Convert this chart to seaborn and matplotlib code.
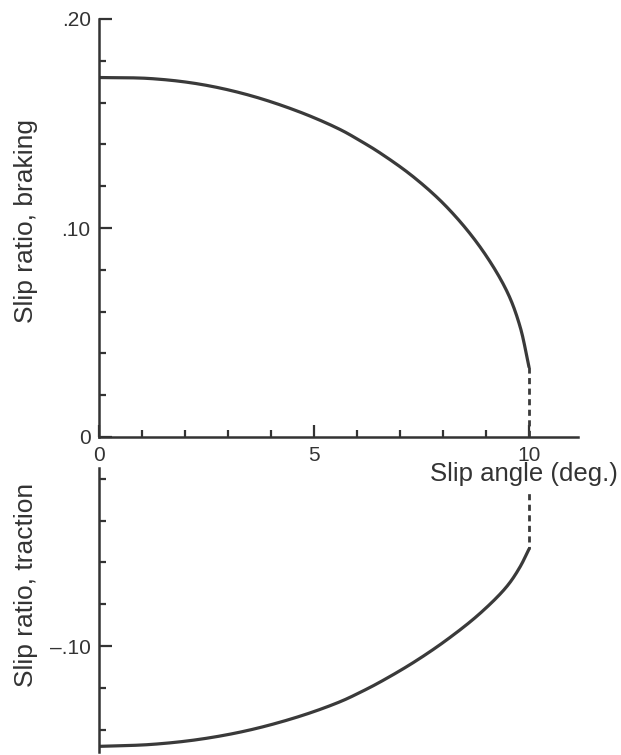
import matplotlib
matplotlib.use("Agg")
import numpy as np
import matplotlib.pyplot as plt
import seaborn as sns
import pandas as pd
from matplotlib.ticker import FixedLocator
from matplotlib.transforms import Bbox

# Slip angle (deg.) at which each branch was read
slip_angle = [0, 1.2, 2.35, 3.5, 4.67, 5.6, 6.07, 6.53, 7.31, 8.09, 8.86, 9.48, 9.79, 10.0]
# Slip ratio limit under braking (positive) and traction (negative)
slip_braking = [0.172, 0.1715, 0.1688, 0.1635, 0.1555, 0.1472, 0.1418, 0.136, 0.1245,
                0.110, 0.091, 0.070, 0.053, 0.0335]
slip_traction = [-0.148, -0.1471, -0.1446, -0.1402, -0.1336, -0.1267, -0.1222, -0.1173,
                 -0.1079, -0.0970, -0.0844, -0.0716, -0.0622, -0.0536]
# Dashed link between the two branches at the limiting slip angle
link_angle = [10.0, 10.0]
link_ratio = [0.0335, -0.0536]

x_major = [0, 5, 10]
x_labels = ["0", "5", "10"]
x_minor = [1, 2, 3, 4, 6, 7, 8, 9]
yb_major = [0, 0.10, 0.20]
yb_labels = ["0", ".10", ".20"]
yb_minor = [0.02, 0.04, 0.06, 0.08, 0.12, 0.14, 0.16, 0.18]
yt_major = [-0.10]
yt_labels = ["\u2013.10"]
yt_minor = [-0.02, -0.04, -0.06, -0.08, -0.12, -0.14]

sns.set_style("ticks")
plt.rcParams["font.family"] = ["Liberation Sans", "DejaVu Sans"]

INK = "#333333"
CURVE = "#3a3a3a"


def smooth_curve(xs, ys, y_scale, n=24):
    """Centripetal Catmull-Rom path through the given points (drawn line only)."""
    P = np.column_stack([np.asarray(xs, float), np.asarray(ys, float) * y_scale])
    P = np.vstack([2 * P[0] - P[1], P, 2 * P[-1] - P[-2]])
    out = []
    for i in range(1, len(P) - 2):
        p0, p1, p2, p3 = P[i - 1], P[i], P[i + 1], P[i + 2]
        t0 = 0.0
        t1 = t0 + np.linalg.norm(p1 - p0) ** 0.5
        t2 = t1 + np.linalg.norm(p2 - p1) ** 0.5
        t3 = t2 + np.linalg.norm(p3 - p2) ** 0.5
        t = np.linspace(t1, t2, n, endpoint=False)[:, None]
        a1 = (t1 - t) / (t1 - t0) * p0 + (t - t0) / (t1 - t0) * p1
        a2 = (t2 - t) / (t2 - t1) * p1 + (t - t1) / (t2 - t1) * p2
        a3 = (t3 - t) / (t3 - t2) * p2 + (t - t2) / (t3 - t2) * p3
        b1 = (t2 - t) / (t2 - t0) * a1 + (t - t0) / (t2 - t0) * a2
        b2 = (t3 - t) / (t3 - t1) * a2 + (t - t1) / (t3 - t1) * a3
        out.append((t2 - t) / (t2 - t1) * b1 + (t - t1) / (t2 - t1) * b2)
    out.append(P[-2][None, :])
    C = np.vstack(out)
    return pd.DataFrame({"angle": C[:, 0], "ratio": C[:, 1] / y_scale})


W, H = 621, 755
fig = plt.figure(figsize=(W / 100, H / 100), dpi=100)
ax_top = fig.add_axes([99 / W, 318 / H, 479 / W, 418 / H])
ax_bot = fig.add_axes([99 / W, 3 / H, 479 / W, 284 / H], sharex=ax_top)
ax_top.set_zorder(2)
ax_bot.set_zorder(1)
ax_top.patch.set_visible(False)
ax_bot.patch.set_visible(False)

# one x unit is 43 px, one slip-ratio unit is 2090 px
Y_SCALE = 2090 / 43
df_b = smooth_curve(slip_angle, slip_braking, Y_SCALE)
df_t = smooth_curve(slip_angle, slip_traction, Y_SCALE)
df_link = pd.DataFrame({"angle": link_angle, "ratio": link_ratio})

dash = (0, (2.2, 1.6))
for ax, df in ((ax_top, df_b), (ax_bot, df_t)):
    sns.lineplot(data=df, x="angle", y="ratio", ax=ax, color=CURVE, lw=2.3,
                 estimator=None, sort=False)
    sns.lineplot(data=df_link, x="angle", y="ratio", ax=ax, color=CURVE, lw=2.0,
                 estimator=None, sort=False, linestyle=dash)
link_lower = ax_bot.lines[-1]

ax_top.set_xlim(0, 11.14)
ax_top.set_ylim(0, 0.20)
ax_bot.set_ylim(-0.1507, -0.0148)

ax_top.set_xticks(x_major, labels=x_labels)
ax_top.xaxis.set_minor_locator(FixedLocator(x_minor))
ax_top.set_yticks(yb_major, labels=yb_labels)
ax_top.yaxis.set_minor_locator(FixedLocator(yb_minor))
ax_bot.set_yticks(yt_major, labels=yt_labels)
ax_bot.yaxis.set_minor_locator(FixedLocator(yt_minor))

for ax in (ax_top, ax_bot):
    for s in ("top", "right"):
        ax.spines[s].set_visible(False)
    for s in ("left", "bottom"):
        ax.spines[s].set_color(INK)
        ax.spines[s].set_linewidth(1.8)
    ax.tick_params(which="both", direction="in", colors=INK, width=1.6,
                   labelsize=15, left=True, bottom=True)
    ax.tick_params(which="major", length=9)
    ax.tick_params(which="minor", length=5)
    ax.tick_params(axis="x", pad=6.5)
    ax.tick_params(axis="y", pad=6)
    ax.set_xlabel("")
    ax.set_ylabel("")

ax_bot.spines["bottom"].set_visible(False)
ax_bot.tick_params(axis="x", which="both", bottom=False, labelbottom=False)

ax_top.set_xlabel("Slip angle (deg.)", fontsize=18.5, color=INK, va="baseline")
ax_top.xaxis.set_label_coords(0.887, -0.105)

ax_top.set_ylabel("Slip ratio, braking", fontsize=19, color=INK, va="center")
ax_top.yaxis.set_label_coords(-0.152, 0.517)
ax_bot.set_ylabel("Slip ratio, traction", fontsize=19, color=INK, va="center")
ax_bot.yaxis.set_label_coords(-0.152, 0.588)

# keep the lower dashes clear of the slip-angle label
fig.canvas.draw()
lab = ax_top.xaxis.label.get_window_extent()
axb = ax_bot.get_window_extent()
link_lower.set_clip_box(Bbox.from_extents(axb.x0, axb.y0, axb.x1, lab.y0 - 6))

fig.savefig("out.png", dpi=100, facecolor="white")
